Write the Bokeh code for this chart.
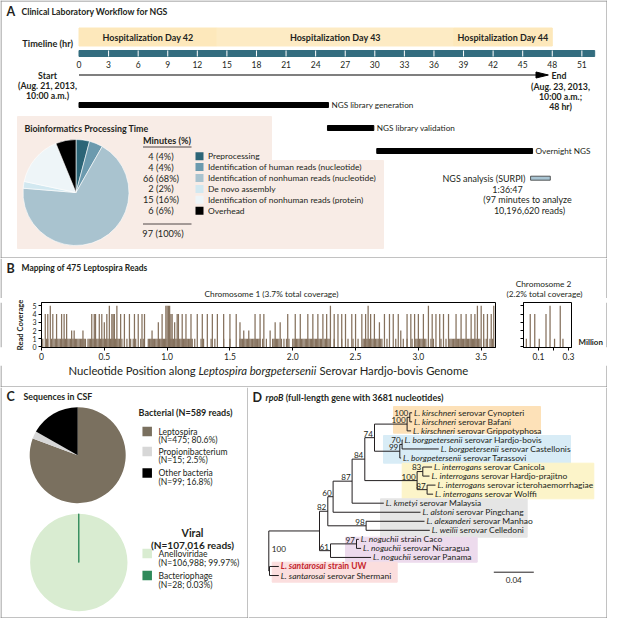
import os, glob, math
from bokeh.plotting import figure
from bokeh.layouts import column, row
from bokeh.models import Range1d, FixedTicker
from bokeh.core.properties import value
from bokeh.embed import file_html
from bokeh.resources import INLINE

FONT = "Lato"
INK = "#231f20"
BORDER = "#858585"

# ======================= DATA =======================
day_labels = ["Hospitalization Day 42", "Hospitalization Day 43", "Hospitalization Day 44"]
day_start_hr = [0, 14, 38]
day_end_hr = [14, 38, 48]
day_colors = ["#fde8bb", "#fdebc4", "#fde8bb"]
timeline_ticks_hr = list(range(0, 52, 3))
timeline_end_hr = 52.3
arrow_end_hr = 47.6
task_labels = ["NGS library generation", "NGS library validation", "Overnight NGS"]
task_start_hr = [0.0, 25.2, 30.2]
task_end_hr = [25.3, 29.9, 46.0]
surpi_label = "NGS analysis (SURPI)"
surpi_start_hr = 45.8
surpi_end_hr = 47.8
surpi_time = "1:36:47"
surpi_note = ["(97 minutes to analyze", "10,196,620 reads)"]
start_text = ["Start", "(Aug. 21, 2013,", "10:00 a.m.)"]
end_text = ["End", "(Aug. 23, 2013,", "10:00 a.m.;", "48 hr)"]

bio_steps = ["Preprocessing", "Identification of human reads (nucleotide)",
             "Identification of nonhuman reads (nucleotide)", "De novo assembly",
             "Identification of nonhuman reads (protein)", "Overhead"]
bio_minutes = [4, 4, 66, 2, 15, 6]
bio_percent = [4, 4, 68, 2, 16, 6]
bio_total_pct = 100
bio_colors = ["#2c6577", "#6b9aae", "#a9c3cf", "#d2e8f0", "#eef5f8", "#000000"]

chr1_len_mb = 3.614
chr1_single_pos = [0.01, 0.04, 0.05, 0.08, 0.10, 0.11, 0.12, 0.13, 0.14, 0.15, 0.16, 0.17, 0.18,
                   0.19, 0.20, 0.21, 0.22, 0.23, 0.24, 0.25, 0.26, 0.27, 0.28, 0.29, 0.30, 0.31,
                   0.32, 0.33, 0.34, 0.35, 0.37, 0.38, 0.39, 0.40, 0.41, 0.42, 0.43, 0.44, 0.45,
                   0.46, 0.47, 0.48, 0.49, 0.50, 0.51, 0.52, 0.53, 0.54, 0.55, 0.56, 0.57, 0.58,
                   0.59, 0.60, 0.61, 0.62, 0.64, 0.66, 0.68, 0.71, 0.73, 0.75, 0.79, 0.81, 0.85,
                   0.86, 0.87, 0.88, 0.89, 0.90, 0.91, 0.92, 0.93, 0.94, 0.95, 0.96, 0.97, 0.98,
                   0.99, 1.01, 1.02, 1.03, 1.04, 1.05, 1.06, 1.07, 1.08, 1.09, 1.10, 1.11, 1.12,
                   1.13, 1.14, 1.15, 1.16, 1.17, 1.18, 1.19, 1.20, 1.22, 1.27, 1.29, 1.35, 1.38,
                   1.45, 1.50, 1.58, 1.59, 1.60, 1.61, 1.62, 1.63, 1.64, 1.65, 1.66, 1.67, 1.68,
                   1.69, 1.70, 1.71, 1.72, 1.73, 1.74, 1.76, 1.79, 1.84, 1.85, 1.86, 1.87, 1.88,
                   1.89, 1.91, 1.93, 1.95, 1.97, 2.00, 2.01, 2.02, 2.03, 2.04, 2.05, 2.06, 2.07,
                   2.08, 2.09, 2.10, 2.11, 2.12, 2.13, 2.14, 2.15, 2.16, 2.17, 2.18, 2.19, 2.20,
                   2.21, 2.22, 2.23, 2.25, 2.26, 2.27, 2.28, 2.29, 2.33, 2.39, 2.44, 2.48, 2.52,
                   2.56, 2.57, 2.58, 2.59, 2.60, 2.61, 2.62, 2.63, 2.64, 2.65, 2.66, 2.67, 2.68,
                   2.69, 2.70, 2.71, 2.75, 2.82, 2.88, 2.91, 2.95, 2.97, 2.98, 2.99, 3.00, 3.01,
                   3.02, 3.03, 3.04, 3.05, 3.06, 3.08, 3.10, 3.12, 3.18, 3.22, 3.25, 3.26, 3.27,
                   3.28, 3.29, 3.30, 3.31, 3.32, 3.33, 3.34, 3.35, 3.36, 3.37, 3.38, 3.39, 3.40,
                   3.41, 3.42, 3.43, 3.44, 3.45, 3.46, 3.47, 3.48, 3.49, 3.52, 3.54, 3.57, 3.59]
chr1_peak_pos = [0.03, 0.05, 0.07, 0.09, 0.12, 0.16, 0.18, 0.20, 0.24, 0.26, 0.33, 0.40, 0.42,
                 0.43, 0.46, 0.48, 0.50, 0.52, 0.54, 0.56, 0.57, 0.58, 0.60, 0.63, 0.66, 0.70,
                 0.74, 0.77, 0.80, 0.82, 0.88, 0.93, 0.96, 0.99, 1.00, 1.01, 1.02, 1.03, 1.04,
                 1.06, 1.08, 1.09, 1.12, 1.15, 1.19, 1.24, 1.28, 1.32, 1.36, 1.40, 1.45, 1.50,
                 1.55, 1.58, 1.61, 1.65, 1.70, 1.74, 1.77, 1.82, 1.86, 1.90, 1.96, 2.02, 2.06,
                 2.12, 2.16, 2.20, 2.24, 2.27, 2.30, 2.33, 2.36, 2.39, 2.42, 2.47, 2.50, 2.55,
                 2.58, 2.60, 2.62, 2.65, 2.69, 2.73, 2.77, 2.80, 2.84, 2.86, 2.91, 2.94, 2.97,
                 3.00, 3.04, 3.08, 3.11, 3.14, 3.17, 3.20, 3.24, 3.30, 3.34, 3.38, 3.42, 3.45,
                 3.47, 3.50, 3.52, 3.55, 3.58, 3.60]
chr1_peak_depth = [4, 4, 5, 4, 4, 4, 4, 4, 2, 2, 2, 4, 4,
                   4, 4, 4, 3, 4, 5, 4, 4, 4, 5, 4, 4, 4,
                   4, 4, 4, 4, 2, 3, 4, 5, 5, 5, 5, 4, 4,
                   3, 4, 4, 4, 4, 4, 4, 4, 4, 4, 4, 4, 4,
                   4, 3, 2, 2, 4, 4, 4, 2, 3, 3, 4, 4, 4,
                   4, 4, 4, 4, 4, 5, 4, 4, 4, 4, 4, 4, 4,
                   4, 5, 4, 4, 3, 4, 4, 4, 4, 2, 4, 4, 4,
                   4, 4, 5, 4, 4, 4, 4, 4, 4, 4, 4, 4, 4,
                   5, 5, 4, 4, 4, 5]
chr2_len_mb = 0.32
chr2_pos_mb = [0.019, 0.045, 0.075, 0.105, 0.150, 0.177, 0.207, 0.245, 0.263]
chr2_depth = [1, 4, 4, 1, 4, 5, 1, 5, 1]
chr1_ticks = [0, 0.5, 1.0, 1.5, 2.0, 2.5, 3.0, 3.5]
chr1_tick_labels = ["0", "0.5", "1.0", "1.5", "2.0", "2.5", "3.0", "3.5"]
chr2_ticks = [0.1, 0.2, 0.3]
chr2_tick_labels = ["0.1", "", "0.3"]

bact_names = ["Leptospira", "Propionibacterium", "Other bacteria"]
bact_reads = [475, 15, 99]
bact_pct = ["80.6%", "2.5%", "16.8%"]
bact_colors = ["#7a705f", "#d7d7d7", "#000000"]
viral_names = ["Anelloviridae", "Bacteriophage"]
viral_reads = [106988, 28]
viral_pct = ["99.97%", "0.03%"]
viral_colors = ["#d9ecd1", "#2f8a5a"]

leaf_species = ["L. kirschneri", "L. kirschneri", "L. kirschneri",
                "L. borgpetersenii", "L. borgpetersenii", "L. borgpetersenii",
                "L. interrogans", "L. interrogans", "L. interrogans", "L. interrogans",
                "L. kmetyi", "L. alstoni", "L. alexanderi", "L. weilii",
                "L. noguchii", "L. noguchii", "L. noguchii", "L. santarosai", "L. santarosai"]
leaf_detail = ["serovar Cynopteri", "serovar Bafani", "serovar Grippotyphosa",
               "serovar Hardjo-bovis", "serovar Castellonis", "serovar Tarassovi",
               "serovar Canicola", "serovar Hardjo-prajitno", "serovar icterohaemorrhagiae",
               "serovar Wolffi", "serovar Malaysia", "serovar Pingchang", "serovar Manhao",
               "serovar Celledoni", "strain Caco", "serovar Nicaragua", "serovar Panama",
               "strain UW", "serovar Shermani"]
leaf_depth = [0.1433, 0.1433, 0.1423, 0.1337, 0.170, 0.1323, 0.1633, 0.1607, 0.1667, 0.1643,
              0.115, 0.1517, 0.1557, 0.161, 0.090, 0.0923, 0.1023, 0.010, 0.010]
highlight_leaf = 17
node_names = ["K2", "K1", "B2", "B1", "I2", "I3", "I1", "N74", "N84", "N87", "N60", "N98",
              "N82", "N97", "N61", "NBIG", "NS", "ROOT"]
node_depth = [0.141, 0.1383, 0.1333, 0.131, 0.154, 0.1583, 0.1483, 0.1057, 0.096, 0.0833,
              0.0643, 0.0973, 0.059, 0.0877, 0.0617, 0.0507, 0.0007, 0.0]
node_children = [[0, 1], ["K2", 2], [3, 4], ["B2", 5], [6, 7], [8, 9], ["I2", "I3"],
                 ["K1", "B1"], ["N74", "I1"], ["N84", 10], ["N87", 11], [12, 13],
                 ["N60", "N98"], [14, 15], ["N97", 16], ["N82", "N61"], [17, 18], ["NBIG", "NS"]]
node_support = ["100", "100", "70", "99", "83", "87", "100", "74", "84", "87", "60", "98",
                "82", "97", "61", "", "", "100"]
scale_bar_len = 0.04

# ======================= HELPERS =======================
_font_files = {}
def _font_file(style):
    if style in _font_files:
        return _font_files[style]
    fn = {"normal": "Lato-Regular", "italic": "Lato-Italic", "bold": "Lato-Bold",
          "bold italic": "Lato-BoldItalic"}[style]
    path = None
    for root in ["/usr/share/fonts", "/usr/local/share/fonts", os.path.expanduser("~/.fonts"),
                 os.path.expanduser("~/.local/share/fonts")]:
        hits = glob.glob(os.path.join(root, "**", fn + ".*"), recursive=True)
        if hits:
            path = hits[0]
            break
    _font_files[style] = path
    return path

_fonts = {}
def text_width(s, size, style="normal"):
    try:
        from PIL import ImageFont
        if style not in _fonts:
            path = _font_file(style)
            _fonts[style] = ImageFont.truetype(path, 100) if path else None
        f = _fonts[style]
        if f is not None:
            return f.getlength(s) * size / 100.0
    except Exception:
        pass
    return len(s) * size * (0.52 if "bold" in style else 0.47)

def fit(s, style, target_px):
    return 10.0 * target_px / text_width(s, 10.0, style)

LETTER = 12.5

def base_fig(w, h, xr, yr, bg="white"):
    p = figure(width=w, height=h, x_range=xr, y_range=yr, output_backend="svg",
               toolbar_location=None, x_axis_location=None, y_axis_location=None,
               min_border=0, outline_line_color=None,
               background_fill_color=bg, border_fill_color=bg)
    p.grid.visible = False
    return p

def put(p, x, y, s, size=8, style="normal", align="left", color=INK, baseline="middle", angle=0):
    p.text(x=[x], y=[y], text=[s], text_font=value(FONT), text_font_size=value(f"{size:.2f}px"),
           text_font_style=style, text_align=align, text_baseline=baseline,
           text_color=color, angle=angle)

def putw(p, x, y, s, width_px, style="normal", align="left", color=INK):
    put(p, x, y, s, fit(s, style, width_px), style, align, color)

def put_rich(p, x, y, parts, size, px_per_unit, align="left"):
    widths = [text_width(s, size, st) for s, st, c in parts]
    gaps = [text_width(" ", size, parts[i][1]) if i > 0 else 0 for i in range(len(parts))]
    total = sum(widths) + sum(gaps)
    if align == "center":
        x0 = x - total / 2 / px_per_unit
    elif align == "right":
        x0 = x - total / px_per_unit
    else:
        x0 = x
    for (s, st, c), w, g in zip(parts, widths, gaps):
        x0 += g / px_per_unit
        put(p, x0, y, s, size, st, "left", c)
        x0 += w / px_per_unit

def rich_fit(parts, target_px):
    w = sum(text_width(s, 10, st) for s, st, c in parts)
    w += sum(text_width(" ", 10, parts[i][1]) for i in range(1, len(parts)))
    return 10.0 * target_px / w

def frame_rect(p, l, r, t, b):
    p.quad(left=[l], right=[r], top=[t], bottom=[b], fill_color=BORDER, line_color=None)

# ======================= PANEL A =======================
A_X0, A_PXH = 83.5, 9.86
def hx(px):
    return (px - A_X0) / A_PXH
pA = base_fig(607, 258, Range1d(hx(5), hx(612)), Range1d(263, 5))
frame_rect(pA, hx(5), hx(6), 5, 263)
frame_rect(pA, hx(611), hx(612), 5, 263)
frame_rect(pA, hx(5), hx(612), 5, 6)
frame_rect(pA, hx(5), hx(612), 262, 263)

put(pA, hx(11), 15.5, "A", LETTER, "bold")
putw(pA, hx(26), 15.5, "Clinical Laboratory Workflow for NGS", 146, "bold")
putw(pA, hx(77.5), 48, "Timeline (hr)", 50.7, "bold", "right")

pA.quad(left=day_start_hr, right=day_end_hr, top=32.5, bottom=50.5, color=day_colors)
mids = [(a + b) / 2 for a, b in zip(day_start_hr, day_end_hr)]
DAYFS = fit(day_labels[0], "bold", 90.6)
pA.text(x=mids, y=[42] * 3, text=day_labels, text_font=value(FONT),
        text_font_size=value(f"{DAYFS:.2f}px"), text_font_style="bold", text_align="center",
        text_baseline="middle", text_color=INK)

TEAL = "#336d7f"
pA.quad(left=[0], right=[timeline_end_hr], top=[55], bottom=[61], color=TEAL)
pA.segment(x0=timeline_ticks_hr[1:], x1=timeline_ticks_hr[1:], y0=55, y1=61,
           line_color="white", line_width=1)
pA.text(x=timeline_ticks_hr, y=[68.5] * len(timeline_ticks_hr),
        text=[str(t) for t in timeline_ticks_hr], text_font=value(FONT),
        text_font_size=value("8.5px"), text_align="center", text_baseline="middle",
        text_color=INK)

head_len = 1.25
pA.segment(x0=[0], x1=[arrow_end_hr - head_len * 0.5], y0=[79.5], y1=[79.5],
           line_color="black", line_width=1.2)
pA.patch(x=[arrow_end_hr, arrow_end_hr - head_len, arrow_end_hr - head_len],
         y=[79.5, 76.5, 82.5], color="black")
SEFS = fit("(Aug. 21, 2013,", "bold", 59)
for i, s in enumerate(start_text):
    put(pA, hx(52), 80 + 10 * i, s, SEFS, "bold", "center")
put(pA, hx(556), 80, end_text[0], SEFS, "bold", "left")
for i, s in enumerate(end_text[1:]):
    put(pA, hx(565), 90.5 + 10 * i, s, SEFS, "bold", "center")

task_y = [109.5, 132.5, 155.5]
TASKFS = fit(task_labels[0], "normal", 82)
pA.quad(left=task_start_hr, right=task_end_hr, top=[y - 2.5 for y in task_y],
        bottom=[y + 2.5 for y in task_y], color="black")
for lab, xe, y in zip(task_labels, task_end_hr, task_y):
    put(pA, xe + 0.3, y, lab, TASKFS)

BOX = "#f8ece6"
bx = [hx(v) for v in [22, 276, 276, 388, 388, 22]]
by = [121, 121, 165, 165, 253, 253]
pA.patch(x=bx, y=by, color=BOX)
putw(pA, hx(29), 133, "Bioinformatics Processing Time", 124, "bold")

tot = sum(bio_minutes)
cum = [0]
for m in bio_minutes:
    cum.append(cum[-1] + m)
sa = [math.pi / 2 - 2 * math.pi * c / tot for c in cum[:-1]]
ea = [math.pi / 2 - 2 * math.pi * c / tot for c in cum[1:]]
pA.wedge(x=hx(80.5), y=197, radius=53, radius_units="screen", start_angle=sa,
         end_angle=ea, direction="clock", fill_color=bio_colors, line_color="white",
         line_width=0.6)

putw(pA, hx(147.5), 144.5, "Minutes (%)", 48, "bold")
pA.segment(x0=[hx(147.5)], x1=[hx(196)], y0=[151.5], y1=[151.5], line_color=INK, line_width=0.8)
row_y = [160.7 + 10.9 * i for i in range(6)]
VALFS = 9.2
LEGFS = fit(bio_steps[2], "normal", 168)
pA.text(x=[hx(165.5)] * 6, y=row_y, text=[f"{m} ({q}%)" for m, q in zip(bio_minutes, bio_percent)],
        text_font=value(FONT), text_font_size=value(f"{VALFS:.2f}px"), text_align="center",
        text_baseline="middle", text_color=INK)
pA.scatter(x=[hx(204)] * 6, y=row_y, marker="square", size=8, fill_color=bio_colors,
           line_color=None)
pA.text(x=[hx(212.5)] * 6, y=row_y, text=bio_steps, text_font=value(FONT),
        text_font_size=value(f"{LEGFS:.2f}px"), text_align="left", text_baseline="middle",
        text_color=INK)
pA.segment(x0=[hx(147.5)], x1=[hx(196)], y0=[228.5], y1=[228.5], line_color=INK, line_width=0.8)
put(pA, hx(167.5), 238, f"{sum(bio_minutes)} ({bio_total_pct}%)", VALFS, "normal", "center")

SUFS = fit(surpi_note[0], "normal", 88.6)
pA.quad(left=[surpi_start_hr], right=[surpi_end_hr], top=[180.7], bottom=[184.7],
        fill_color="#a9c5d3", line_color="#333333", line_width=0.8)
put(pA, hx(530), 182.7, surpi_label, SUFS, "normal", "right")
put(pA, hx(512), 193.7, surpi_time, SUFS, "normal", "center")
put(pA, hx(532), 204.3, surpi_note[0], SUFS, "normal", "center")
put(pA, hx(534), 215, surpi_note[1], SUFS, "normal", "center")

# ======================= PANEL B =======================
pBt = base_fig(607, 40, Range1d(5, 612), Range1d(303, 263))
frame_rect(pBt, 5, 6, 263, 303); frame_rect(pBt, 611, 612, 263, 303)
put(pBt, 11, 272.5, "B", LETTER, "bold")
putw(pBt, 26, 272.5, "Mapping of 475 Leptospira Reads", 126, "bold")
CHFS = fit("Chromosome 1 (3.7% total coverage)", "normal", 134)
put(pBt, 276, 298, "Chromosome 1 (3.7% total coverage)", CHFS, "normal", "center")
put(pBt, 548, 288, "Chromosome 2", CHFS, "normal", "center")
put(pBt, 549, 298, "(2.2% total coverage)", CHFS, "normal", "center")

BAR = "#85715d"
def chrom_fig(w, length, pos, depth, ticks, labels, border_left, border_right, show_ylabels):
    frame_px = w - border_left - border_right
    p = figure(width=w, height=67, x_range=Range1d(0, length), y_range=Range1d(-0.07, 5.41),
               output_backend="svg", toolbar_location=None,
               min_border_left=border_left, min_border_right=border_right,
               min_border_top=4, min_border_bottom=18,
               outline_line_color="black", outline_line_width=1,
               background_fill_color="white", border_fill_color="white")
    p.grid.visible = False
    p.vbar(x=pos, top=depth, bottom=0, width=1.25 * length / frame_px, fill_color=BAR,
           line_color=None)
    xa = p.xaxis[0]
    xa.ticker = FixedTicker(ticks=ticks)
    xa.major_label_overrides = {t: l for t, l in zip(ticks, labels)}
    xa.major_tick_in = 0
    xa.major_tick_out = 3
    xa.minor_tick_line_color = None
    xa.axis_line_color = "black"
    xa.major_label_text_font = FONT
    xa.major_label_text_font_size = "8.5px"
    xa.major_label_text_color = INK
    xa.major_label_standoff = 2
    ya = p.yaxis[0]
    ya.ticker = FixedTicker(ticks=[0, 1, 2, 3, 4, 5])
    ya.major_tick_in = 0
    ya.major_tick_out = 3
    ya.minor_tick_line_color = None
    ya.major_label_text_font = FONT
    ya.major_label_text_font_size = "7px"
    ya.major_label_standoff = 2
    ya.major_label_text_color = INK if show_ylabels else None
    return p

chr1_pos = chr1_single_pos + chr1_peak_pos
chr1_dep = [1] * len(chr1_single_pos) + chr1_peak_depth
chr1 = chrom_fig(500, chr1_len_mb, chr1_pos, chr1_dep, chr1_ticks, chr1_tick_labels, 31, 15, True)
ya1 = chr1.yaxis[0]
ya1.axis_label = "Read Coverage"
ya1.axis_label_text_font = FONT
ya1.axis_label_text_font_size = "7.6px"
ya1.axis_label_text_font_style = "bold"
ya1.axis_label_text_color = INK
ya1.axis_label_standoff = 4
chr2 = chrom_fig(67, chr2_len_mb, chr2_pos_mb, chr2_depth, chr2_ticks, chr2_tick_labels,
                 13, 6, False)
pLeft = base_fig(10, 67, Range1d(5, 15), Range1d(370, 303))
frame_rect(pLeft, 5, 6, 303, 370)
pMil = base_fig(30, 67, Range1d(582, 612), Range1d(370, 303))
frame_rect(pMil, 611, 612, 303, 370)
putw(pMil, 583, 361.5, "Million", 24.4, "bold")
pBx = base_fig(607, 22, Range1d(5, 612), Range1d(392, 370))
frame_rect(pBx, 5, 6, 370, 392); frame_rect(pBx, 611, 612, 370, 392)
frame_rect(pBx, 5, 612, 391, 392)
xt_parts = [("Nucleotide Position along", "normal", INK),
            ("Leptospira borgpetersenii", "italic", INK),
            ("Serovar Hardjo-bovis Genome", "normal", INK)]
put_rich(pBx, 273, 374.5, xt_parts, rich_fit(xt_parts, 400), 1.0, "center")
panelB = column(pBt, row(pLeft, chr1, chr2, pMil), pBx)

# ======================= PANEL C =======================
pC = base_fig(248, 231, Range1d(5, 253), Range1d(623, 392))
frame_rect(pC, 5, 6, 392, 623); frame_rect(pC, 252, 253, 392, 623)
frame_rect(pC, 5, 253, 622, 623)
put(pC, 11, 401, "C", LETTER, "bold")
putw(pC, 28, 401, "Sequences in CSF", 68.7, "bold")

def pie(p, cx, cy, r, vals, colors, lines):
    t = sum(vals)
    c = [0]
    for v in vals:
        c.append(c[-1] + v)
    s = [math.pi / 2 - 2 * math.pi * a / t for a in c[:-1]]
    e = [math.pi / 2 - 2 * math.pi * a / t for a in c[1:]]
    p.wedge(x=cx, y=cy, radius=r, radius_units="screen", start_angle=s, end_angle=e,
            direction="clock", fill_color=colors, line_color=lines, line_width=1)

pie(pC, 82.2, 459.7, 48, bact_reads, bact_colors, [None, None, None])
pie(pC, 83.3, 567, 48.7, viral_reads, viral_colors, [None, viral_colors[1]])

BODY = fit("(N=106,988; 99.97%)", "normal", 81)
putw(pC, 190, 416.7, f"Bacterial (N={sum(bact_reads)} reads)", 94, "bold", "center")
b_y = [436, 456, 477.5]
pC.scatter(x=[151.7] * 3, y=b_y, marker="square", size=9.5, fill_color=bact_colors,
           line_color=None)
for n, r_, pc, y in zip(bact_names, bact_reads, bact_pct, b_y):
    put(pC, 163, y, n, BODY)
    put(pC, 163, y + 8.8, f"(N={r_:,}; {pc})", BODY)
putw(pC, 197, 537.5, "Viral", 22, "bold", "center")
putw(pC, 197, 549.5, f"(N={sum(viral_reads):,} reads)", 83.3, "bold", "center")
v_y = [558, 580]
pC.scatter(x=[151.7] * 2, y=v_y, marker="square", size=9.5, fill_color=viral_colors,
           line_color=None)
for n, r_, pc, y in zip(viral_names, viral_reads, viral_pct, v_y):
    put(pC, 163, y, n, BODY)
    put(pC, 163, y + 9.8, f"(N={r_:,}; {pc})", BODY)

# ======================= PANEL D =======================
D_X0, D_PXU = 273.3, 1000.0
D_Y0, D_PYI = 417.3, 9.04
def dx(px):
    return (px - D_X0) / D_PXU
def dy(py):
    return (py - D_Y0) / D_PYI
pD = base_fig(359, 231, Range1d(dx(253), dx(612)), Range1d(dy(623), dy(392)))
frame_rect(pD, dx(611), dx(612), dy(392), dy(623))
frame_rect(pD, dx(253), dx(612), dy(622), dy(623))

boxes = [((398, 545), (411, 437.7), "#fde1b8"),
         ((388, 575), (440, 467.7), "#d8ecf6"),
         ((406.7, 598.3), (467.7, 503.3), "#fcf4c9"),
         ((385, 531.7), (503.3, 541.7), "#e5e5e5"),
         ((350, 481.7), (541.7, 566.7), "#eddbed"),
         ((276.7, 401.7), (566.7, 586.7), "#fbdede")]
pD.quad(left=[dx(b[0][0]) for b in boxes], right=[dx(b[0][1]) for b in boxes],
        top=[dy(b[1][0]) for b in boxes], bottom=[dy(b[1][1]) for b in boxes],
        color=[b[2] for b in boxes])

put(pD, dx(257), dy(401.7), "D", LETTER, "bold")
dt_parts = [("rpoB", "bold italic", INK), ("(full-length gene with 3681 nucleotides)", "bold", INK)]
put_rich(pD, dx(270), dy(401.7), dt_parts, rich_fit(dt_parts, 178), D_PXU)

pos = {}
for i, d in enumerate(leaf_depth):
    pos[i] = (d, float(i))
for name, d, ch in zip(node_names, node_depth, node_children):
    ys = [pos[c][1] for c in ch]
    pos[name] = (d, sum(ys) / len(ys))
hx0, hx1, hy = [], [], []
vx, vy0, vy1 = [], [], []
for name, ch in zip(node_names, node_children):
    nd, ny = pos[name]
    ys = [pos[c][1] for c in ch]
    vx.append(nd); vy0.append(min(ys)); vy1.append(max(ys))
    for c in ch:
        hx0.append(nd); hx1.append(pos[c][0]); hy.append(pos[c][1])
pD.segment(x0=hx0, x1=hx1, y0=hy, y1=hy, line_color=INK, line_width=1)
pD.segment(x0=vx, x1=vx, y0=vy0, y1=vy1, line_color=INK, line_width=1)

TREE_FS = (rich_fit([("L. kirschneri", "italic", INK), ("serovar Cynopteri", "normal", INK)], 109)
           + rich_fit([("L. interrogans", "italic", INK),
                       ("serovar icterohaemorrhagiae", "normal", INK)], 157.7)) / 2
SUP_FS = TREE_FS * 0.96
for name, lab in zip(node_names, node_support):
    if not lab:
        continue
    nd, ny = pos[name]
    if name == "ROOT":
        put(pD, nd + 3 / D_PXU, ny - 0.26, lab, SUP_FS, "normal", "left")
    else:
        put(pD, nd - 1.5 / D_PXU, ny - 0.45, lab, SUP_FS, "normal", "right")

for i, (sp, det, d) in enumerate(zip(leaf_species, leaf_detail, leaf_depth)):
    if i == highlight_leaf:
        parts = [(sp, "bold italic", "#c4262e"), (det, "bold", "#c4262e")]
    else:
        parts = [(sp, "italic", INK), (det, "normal", INK)]
    put_rich(pD, d + 2 / D_PXU, i, parts, TREE_FS, D_PXU)

sb_x0 = dx(498.3)
pD.segment(x0=[sb_x0], x1=[sb_x0 + scale_bar_len], y0=[dy(576.7)], y1=[dy(576.7)],
           line_color=INK, line_width=1)
put(pD, sb_x0 + scale_bar_len / 2, dy(584.5), f"{scale_bar_len}", SUP_FS, "normal", "center")

layout = column(pA, panelB, row(pC, pD))

with open("out.html", "w") as f:
    f.write(file_html(layout, INLINE))
